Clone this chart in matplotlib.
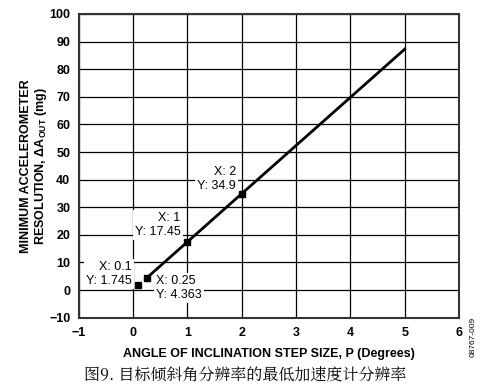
import matplotlib
matplotlib.use("Agg")
import matplotlib.pyplot as plt

# data
line_x = [0.25, 5]
line_y = [4.363, 87.25]
pts_x = [0.1, 0.25, 1, 2]
pts_y = [1.745, 4.363, 17.45, 34.9]
x_ticks = [-1, 0, 1, 2, 3, 4, 5, 6]
y_ticks = [-10, 0, 10, 20, 30, 40, 50, 60, 70, 80, 90, 100]

plt.rcParams['font.family'] = ['Liberation Sans', 'DejaVu Sans']
plt.rcParams['mathtext.fontset'] = 'custom'
plt.rcParams['mathtext.rm'] = 'Liberation Sans:bold'

fig = plt.figure(figsize=(4.85, 3.89), dpi=100)
W, H = 485, 389
ax = fig.add_axes([78.7 / W, 1 - 317.7 / H, (459 - 78.7) / W, (317.7 - 14) / H])
ax.set_xlim(-1, 6)
ax.set_ylim(-10, 100)
ax.set_xticks(x_ticks)
ax.set_yticks(y_ticks)
ax.set_xticklabels(['\u2212' + str(-v) if v < 0 else str(v) for v in x_ticks],
                   fontsize=9, fontweight='bold')
ax.set_yticklabels(['\u2212' + str(-v) if v < 0 else str(v) for v in y_ticks],
                   fontsize=9, fontweight='bold')
ax.tick_params(axis='x', length=0, pad=7)
ax.tick_params(axis='y', length=0, pad=6)
ax.grid(True, color='black', lw=0.9)
ax.set_axisbelow(True)
for s in ax.spines.values():
    s.set_linewidth(1.5)
    s.set_color('#333333')

ax.plot(line_x, line_y, color='black', lw=2, zorder=3)
ax.plot(pts_x, pts_y, ls='none', marker='s', ms=5, color='black', zorder=5)

bb = dict(facecolor='white', edgecolor='none', pad=1.5)
fs = 9
# datatips
ax.annotate('X: 0.1\nY: 1.745', (pts_x[0], pts_y[0]), xytext=(-5, -1),
            textcoords='offset points', ha='right', va='bottom', fontsize=fs,
            multialignment='right', bbox=bb, zorder=4, linespacing=1.2)
ax.annotate('X: 0.25\nY: 4.363', (pts_x[1], pts_y[1]), xytext=(7, 2),
            textcoords='offset points', ha='left', va='top', fontsize=fs,
            multialignment='left', bbox=bb, zorder=4, linespacing=1.2)
ax.annotate('X: 1\nY: 17.45', (pts_x[2], pts_y[2]), xytext=(-5, 3),
            textcoords='offset points', ha='right', va='bottom', fontsize=fs,
            multialignment='right', bbox=bb, zorder=4, linespacing=1.2)
ax.annotate('X: 2\nY: 34.9', (pts_x[3], pts_y[3]), xytext=(-4, 1.5),
            textcoords='offset points', ha='right', va='bottom', fontsize=fs,
            multialignment='right', bbox=bb, zorder=4, linespacing=1.2)

ax.set_xlabel('ANGLE OF INCLINATION STEP SIZE, P (Degrees)', fontsize=9,
              fontweight='bold', labelpad=6)
ax.set_ylabel('MINIMUM ACCELEROMETER\nRESOLUTION, $\\Delta$A$_{\\mathregular{OUT}}$ (mg)',
              fontsize=9, fontweight='bold', linespacing=1.1)
ax.yaxis.set_label_coords(-0.077, 0.5)

fig.text(245 / W, 1 - 376 / H, '图9. 目标倾斜角分辨率的最低加速度计分辨率',
         family=['Noto Serif CJK SC', 'Noto Sans CJK SC', 'DejaVu Sans'],
         fontsize=11.5, style='italic', ha='center', va='center')
fig.text(473 / W, 1 - 337 / H, '08767-009', rotation=90, fontsize=6,
         ha='center', va='center')

fig.savefig('out.png', dpi=100)
